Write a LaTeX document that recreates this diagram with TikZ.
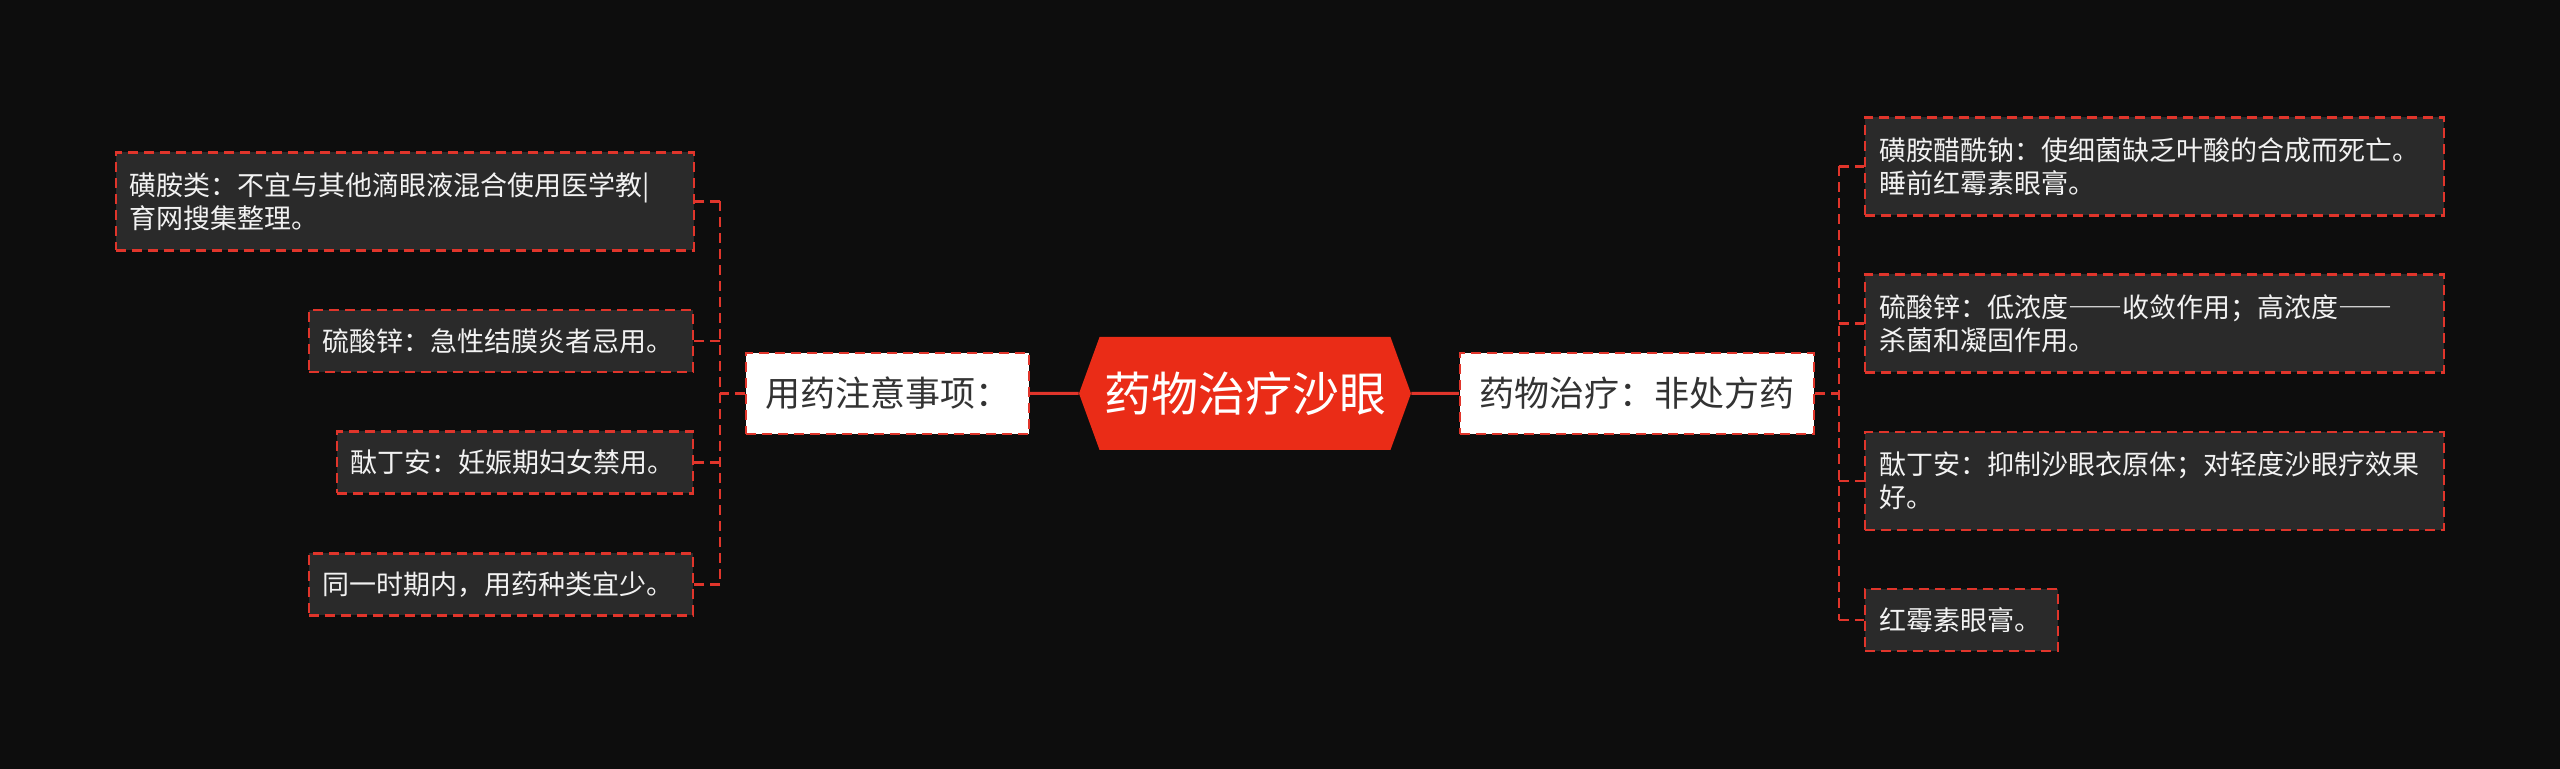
\documentclass[tikz,border=0pt]{standalone}
\usepackage{fontspec}
\setmainfont{Noto Sans CJK SC}
\usetikzlibrary{shapes.symbols}
\definecolor{bgblack}{HTML}{0D0D0D}
\definecolor{leaffill}{HTML}{2A2A2A}
\definecolor{linered}{HTML}{E0352B}
\definecolor{rootred}{HTML}{EA2C17}
\definecolor{maintext}{HTML}{333333}
\definecolor{leaftext}{HTML}{F2F2F2}
\newcommand{\fanout}[7]{
\draw[branch] (#1.#3) -- (#2);
\draw[branch] (#2|-#6.#4) -- (#2|-#7.#4);
\foreach \n in {#5} {
\draw[branch] (#2|-\n.#4) -- (\n.#4);
}
}
\newcommand{\fulldash}{{\addfontfeature{CharacterWidth=Full}——}}

\begin{document}
\begin{tikzpicture}[
x=0.5pt, y=-0.5pt,
% central topic
root/.style={signal, signal to=east and west, signal pointer angle=140, fill=rootred, text=white, minimum width=166pt, minimum height=56.5pt, inner sep=0, font=\fontsize{23.5}{28}\selectfont},
% main branches
dashbox/.style={draw=linered, line width=1.1pt, dash pattern=on 5pt off 3pt},
branchbox/.style={dashbox, fill=white, text=maintext, minimum height=40.5pt, inner sep=0, font=\fontsize{17.5}{21}\selectfont},
% leaves
leaf/.style={dashbox, fill=leaffill, text=leaftext, align=left, inner xsep=7pt, inner ysep=0, font=\fontsize{13.5}{16.5}\selectfont},
oneline/.style={leaf, minimum height=31pt},
twoline/.style={leaf, minimum height=49pt},
% connectors
stem/.style={draw=linered, line width=1.5pt},
branch/.style={draw=linered, line width=1.1pt, dash pattern=on 5pt off 3pt}
]

\fill[bgblack] (0,0) rectangle (2560,769);
\useasboundingbox (0,0) rectangle (2560,769);

% central topic and main branches
\node[root] (root) at (1245,393.5) {药物治疗沙眼};
\node[branchbox, minimum width=141.5pt] (lmain) at (887.5,393.5) {用药注意事项：};
\node[branchbox, minimum width=177pt] (rmain) at (1637,393.5) {药物治疗：非处方药};

% left leaves
\node[twoline, anchor=east, text width=275pt] (l1) at (695,201.5) {磺胺类：不宜与其他滴眼液混合使用医学教|\\育网搜集整理。};
\node[oneline, anchor=east, text width=178pt] (l2) at (694,341) {硫酸锌：急性结膜炎者忌用。};
\node[oneline, anchor=east, text width=164pt] (l3) at (694,462.5) {酞丁安：妊娠期妇女禁用。};
\node[oneline, anchor=east, text width=178pt] (l4) at (694,584.5) {同一时期内，用药种类宜少。};

% right leaves
\node[twoline, anchor=west, text width=275.5pt] (r1) at (1864,166.5) {磺胺醋酰钠：使细菌缺乏叶酸的合成而死亡。\\睡前红霉素眼膏。};
\node[twoline, anchor=west, text width=275.5pt] (r2) at (1864,323.5) {硫酸锌：低浓度\fulldash 收敛作用；高浓度\fulldash\\杀菌和凝固作用。};
\node[twoline, anchor=west, text width=275.5pt] (r3) at (1864,481) {酞丁安：抑制沙眼衣原体；对轻度沙眼疗效果\\好。};
\node[oneline, anchor=west, text width=82.5pt] (r4) at (1864,620) {红霉素眼膏。};

% trunks
\coordinate (ltrunk) at (720,393.5);
\coordinate (rtrunk) at (1839,393.5);

\draw[stem] (root) -- (lmain);
\draw[stem] (root) -- (rmain);

\fanout{lmain}{ltrunk}{west}{east}{l1,l2,l3,l4}{l1}{l4}
\fanout{rmain}{rtrunk}{east}{west}{r1,r2,r3,r4}{r1}{r4}

\end{tikzpicture}
\end{document}
